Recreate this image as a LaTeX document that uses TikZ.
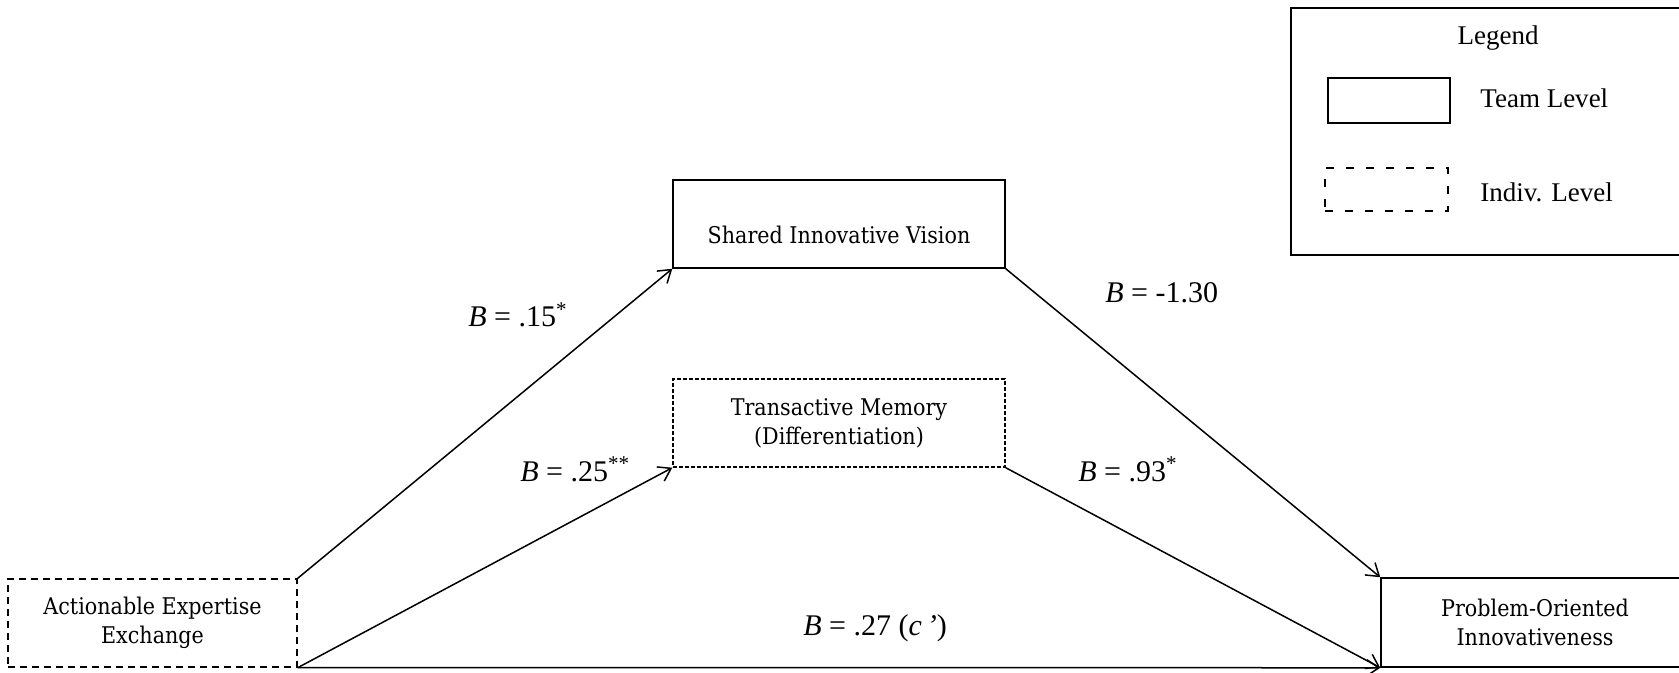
\documentclass[tikz,border=0pt]{standalone}
\usepackage{fontspec}
\setmainfont{Liberation Serif}
\newfontfamily\boxfont{DejaVu Serif Condensed}
\usetikzlibrary{arrows.meta,calc}
\begin{document}
\begin{tikzpicture}[x=0.5pt,y=-0.5pt,
  boxtext/.style={font=\boxfont\fontsize{11.5}{14.5}\selectfont, align=center},
  teambox/.style={draw, line width=0.75pt, inner sep=0pt},
  indivbox/.style={draw, line width=0.7pt, inner sep=0pt},
  conn/.style={line width=0.75pt, -{Straight Barb[length=6pt,width=8pt,line width=0.75pt]}},
  coef/.style={font=\fontsize{15}{18}\selectfont, anchor=base west, inner sep=0pt},
  legtext/.style={font=\fontsize{13.5}{16}\selectfont, inner sep=0pt}
]
\useasboundingbox (0,0) rectangle (1679,673);
\clip (0,0) rectangle (1679,673);
% boxes
\node[indivbox, dash pattern=on 3.5pt off 2.5pt, minimum width=144.5pt, minimum height=44pt, boxtext] (aee) at (152.5,623) {Actionable Expertise\\Exchange};
\node[teambox, minimum width=166pt, minimum height=44pt] (siv) at (839,224) {};
\node[boxtext] (sivt) at (839,235) {Shared Innovative Vision};
\node[indivbox, dash pattern=on 2pt off 1pt, minimum width=166pt, minimum height=44pt, boxtext] (tm) at (839,423) {Transactive Memory\\(Differentiation)};
\node[teambox, minimum width=154pt, minimum height=44.5pt, boxtext] (poi) at (1535,622.5) {Problem-Oriented\\Innovativeness};
% connectors
\draw[conn] (aee.north east) -- (siv.south west);
\draw[conn] (aee.south east) -- (tm.south west);
\draw[conn] (aee.south east) -- (poi.south west);
\draw[conn] (siv.south east) -- (poi.north west);
\draw[conn] (tm.south east) -- (poi.south west);
% coefficients
\node[coef] (c1) at (468,327) {\textit{B} = .15\textsuperscript{*}};
\node[coef] (c2) at (520,481) {\textit{B} = .25\textsuperscript{**}};
\node[coef] (c3) at (1105,303) {\textit{B} = -1.30};
\node[coef] (c4) at (1078,481) {\textit{B} = .93\textsuperscript{*}};
\node[coef] (c5) at (803,635) {\textit{B} = .27 (\textit{c\,’})};
% legend
\node[draw, line width=0.75pt, minimum width=207pt, minimum height=123.5pt, inner sep=0pt] (leg) at (1498,131.5) {};
\node[legtext, anchor=base] (legt) at (1498,45) {Legend};
\node[teambox, minimum width=61pt, minimum height=22.5pt] (legteam) at (1389,100.5) {};
\node[legtext, anchor=base west] (legteamt) at (1480,108) {Team Level};
\node[indivbox, dash pattern=on 4pt off 6pt, minimum width=61.5pt, minimum height=21.5pt] (legind) at (1386.5,189.5) {};
\node[legtext, anchor=base west] (legindt) at (1480,202) {Indiv. Level};
\end{tikzpicture}
\end{document}
